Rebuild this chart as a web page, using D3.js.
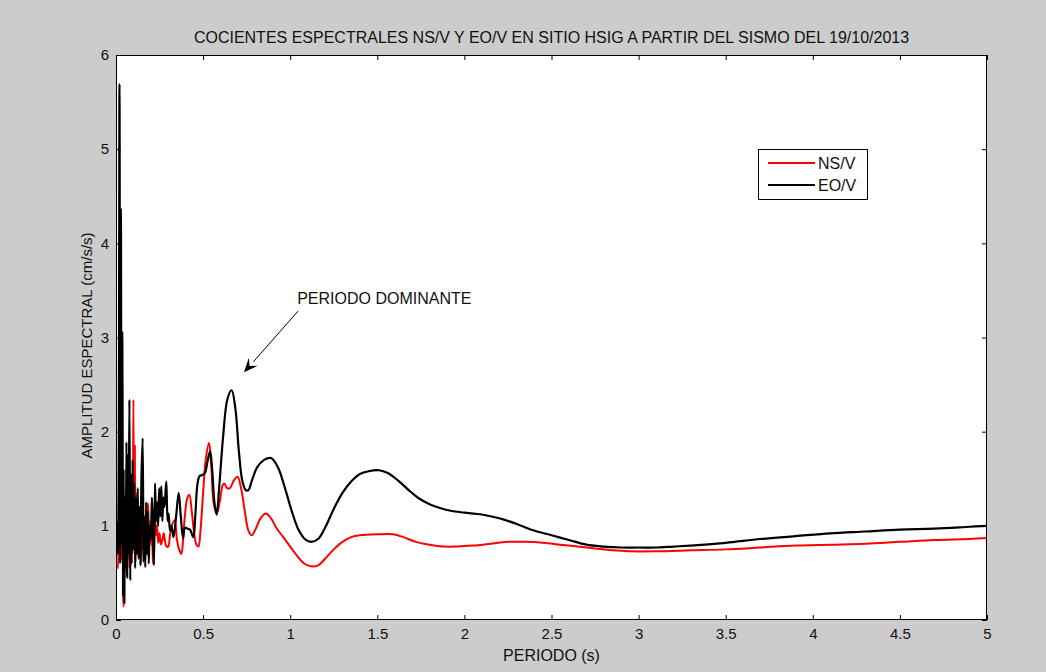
<!DOCTYPE html>
<html>
<head>
<meta charset="utf-8">
<script src="https://cdn.jsdelivr.net/npm/d3@7"></script>
<style>
  html, body { margin: 0; padding: 0; background: #cccccc; }
  svg { display: block; }
  text { font-family: "Liberation Sans", Arial, Helvetica, sans-serif; fill: #111; }
</style>
</head>
<body>
<svg id="chart" width="1046" height="672"></svg>
<script>
// Spectral ratio NS/V (horizontal north-south over vertical), period in s
const nsPeriod = [
  0.005,0.010,0.015,0.020,0.024,0.028,0.032,0.036,0.040,0.044,0.048,0.052,0.056,0.060,0.064,0.068,
  0.072,0.077,0.082,0.086,0.090,0.095,0.100,0.104,0.108,0.112,0.117,0.122,0.128,0.133,0.138,0.143,
  0.148,0.153,0.158,0.163,0.168,0.174,0.180,0.184,0.190,0.196,0.202,0.207,0.212,0.218,0.224,0.230,
  0.236,0.242,0.250,0.258,0.266,0.274,0.282,0.290,0.300,0.310,0.320,0.337,0.350,0.362,0.375,0.385,
  0.395,0.410,0.421,0.435,0.450,0.462,0.473,0.485,0.500,0.515,0.534,0.548,0.560,0.578,0.595,0.612,
  0.622,0.638,0.654,0.676,0.698,0.718,0.740,0.760,0.780,0.800,0.830,0.860,0.890,0.920,0.960,1.000,
  1.040,1.080,1.120,1.160,1.200,1.250,1.300,1.350,1.400,1.500,1.590,1.650,1.720,1.800,1.880,1.960,
  2.050,2.150,2.250,2.350,2.450,2.550,2.650,2.750,2.850,2.950,3.100,3.300,3.500,3.700,3.900,4.100,
  4.300,4.500,4.700,4.900,5.000
];
const nsAmp = [
  0.58,0.55,0.90,1.20,0.70,1.05,0.65,2.48,0.30,0.14,1.20,0.60,1.05,0.50,1.30,0.65,
  1.10,0.55,1.20,0.60,1.00,0.70,2.34,0.75,1.85,0.62,1.35,0.70,1.25,0.85,1.05,0.60,
  1.20,0.75,1.00,0.85,0.98,0.80,1.10,1.24,0.90,1.05,0.80,0.95,0.60,0.95,1.10,0.90,
  1.00,0.82,0.92,0.80,0.85,0.92,0.83,0.78,0.78,0.90,1.00,1.06,0.85,0.75,0.70,0.85,
  1.10,1.30,1.33,1.15,0.90,0.80,0.78,0.95,1.35,1.70,1.88,1.60,1.25,1.13,1.25,1.43,
  1.45,1.40,1.40,1.48,1.52,1.40,1.15,0.95,0.90,0.96,1.08,1.13,1.08,0.98,0.88,0.78,
  0.68,0.60,0.57,0.58,0.65,0.75,0.83,0.88,0.90,0.91,0.91,0.88,0.83,0.80,0.78,0.78,
  0.79,0.81,0.83,0.83,0.82,0.80,0.78,0.76,0.74,0.73,0.73,0.74,0.75,0.77,0.79,0.80,
  0.81,0.83,0.85,0.86,0.87
];

// Spectral ratio EO/V (horizontal east-west over vertical)
const eoPeriod = [
  0.005,0.010,0.015,0.020,0.024,0.028,0.032,0.036,0.040,0.044,0.048,0.052,0.056,0.060,0.064,0.068,
  0.072,0.077,0.082,0.086,0.090,0.095,0.100,0.105,0.110,0.115,0.120,0.125,0.130,0.135,0.140,0.146,
  0.153,0.158,0.163,0.168,0.173,0.178,0.183,0.188,0.194,0.200,0.206,0.212,0.218,0.224,0.230,0.236,
  0.242,0.248,0.254,0.260,0.266,0.272,0.278,0.284,0.289,0.296,0.302,0.310,0.318,0.330,0.345,0.360,
  0.372,0.385,0.396,0.410,0.425,0.444,0.455,0.468,0.480,0.495,0.510,0.525,0.540,0.552,0.565,0.578,
  0.592,0.615,0.640,0.664,0.685,0.705,0.725,0.745,0.760,0.780,0.810,0.850,0.890,0.930,0.970,1.010,
  1.050,1.090,1.120,1.160,1.200,1.250,1.300,1.350,1.400,1.450,1.510,1.560,1.620,1.680,1.740,1.800,
  1.860,1.920,2.000,2.100,2.200,2.300,2.400,2.500,2.600,2.700,2.800,2.900,3.000,3.100,3.200,3.300,
  3.500,3.700,3.900,4.100,4.300,4.500,4.700,4.900,5.000
];
const eoAmp = [
  1.05,0.70,1.40,5.69,0.60,4.37,0.80,3.06,0.25,1.60,0.18,1.30,0.55,1.89,0.45,1.75,
  0.70,2.34,0.42,1.55,0.60,1.70,0.75,1.45,0.55,1.30,0.70,1.40,0.65,1.20,0.58,1.50,
  1.93,0.62,1.10,0.56,1.25,0.70,1.15,0.60,1.00,0.85,1.30,0.95,0.58,1.45,1.05,1.25,
  1.00,1.40,1.10,1.42,1.05,1.30,1.20,1.35,1.47,1.05,1.13,0.95,1.00,0.88,1.10,1.35,
  1.10,0.87,0.98,0.97,0.96,0.88,1.10,1.45,1.53,1.54,1.56,1.68,1.79,1.60,1.25,1.12,
  1.40,1.95,2.35,2.44,2.25,1.80,1.48,1.38,1.38,1.48,1.62,1.70,1.72,1.62,1.40,1.15,
  0.95,0.85,0.83,0.86,0.98,1.18,1.35,1.47,1.55,1.58,1.59,1.56,1.48,1.38,1.29,1.23,
  1.19,1.16,1.14,1.12,1.08,1.02,0.95,0.90,0.85,0.80,0.78,0.77,0.77,0.77,0.78,0.79,
  0.82,0.86,0.89,0.92,0.94,0.96,0.97,0.99,1.00
];

const xTicks = [0, 0.5, 1, 1.5, 2, 2.5, 3, 3.5, 4, 4.5, 5];
const yTicks = [0, 1, 2, 3, 4, 5, 6];

const titleText = "COCIENTES ESPECTRALES NS/V Y EO/V EN SITIO HSIG A PARTIR DEL SISMO DEL 19/10/2013";
const xLabel = "PERIODO (s)";
const yLabel = "AMPLITUD ESPECTRAL (cm/s/s)";
const seriesNames = ["NS/V", "EO/V"];
const noteText = "PERIODO DOMINANTE";
// annotation anchor points in data units [period, amplitude]
const noteAt = [1.04, 3.36];
const arrowFrom = [1.045, 3.28];
const arrowTo = [0.735, 2.63];

const svg = d3.select("#chart");
const plot = { left: 116, right: 987, top: 55, bottom: 620 };

const x = d3.scaleLinear().domain([0, 5]).range([plot.left, plot.right]);
const y = d3.scaleLinear().domain([0, 6]).range([plot.bottom, plot.top]);

// white axes area
svg.append("rect")
  .attr("x", plot.left).attr("y", plot.top)
  .attr("width", plot.right - plot.left).attr("height", plot.bottom - plot.top)
  .attr("fill", "#ffffff");

// clip so curves stay inside the axes
svg.append("clipPath").attr("id", "clip").append("rect")
  .attr("x", plot.left).attr("y", plot.top)
  .attr("width", plot.right - plot.left).attr("height", plot.bottom - plot.top);

const line = d3.line()
  .x(d => x(d[0])).y(d => y(d[1]))
  .curve(d3.curveCatmullRom.alpha(0.5));

const nsData = nsPeriod.map((p, i) => [p, nsAmp[i]]);
const eoData = eoPeriod.map((p, i) => [p, eoAmp[i]]);

const curves = svg.append("g").attr("clip-path", "url(#clip)");
curves.append("path").datum(nsData)
  .attr("d", line).attr("fill", "none")
  .attr("stroke", "#ff0000").attr("stroke-width", 2).attr("stroke-linejoin", "round");
curves.append("path").datum(eoData)
  .attr("d", line).attr("fill", "none")
  .attr("stroke", "#000000").attr("stroke-width", 2.2).attr("stroke-linejoin", "round");

// axes with inward ticks on all four sides
const fmt = d => String(d);
const axisFont = g => g.selectAll("text")
  .attr("font-size", 15).attr("fill", "#1a1d2e")
  .attr("font-family", "'Liberation Sans Narrow', 'Liberation Sans', Arial, sans-serif");

svg.append("g").attr("transform", `translate(0,${plot.bottom})`)
  .call(d3.axisBottom(x).tickValues(xTicks).tickFormat(fmt).tickSizeInner(-5).tickSizeOuter(0).tickPadding(8))
  .call(g => g.select(".domain").remove())
  .call(axisFont);
svg.append("g").attr("transform", `translate(${plot.left},0)`)
  .call(d3.axisLeft(y).tickValues(yTicks).tickFormat(fmt).tickSizeInner(-5).tickSizeOuter(0).tickPadding(7))
  .call(g => g.select(".domain").remove())
  .call(axisFont);
svg.append("g").attr("transform", `translate(0,${plot.top})`)
  .call(d3.axisTop(x).tickValues(xTicks).tickFormat("").tickSizeInner(-5).tickSizeOuter(0))
  .call(g => g.select(".domain").remove());
svg.append("g").attr("transform", `translate(${plot.right},0)`)
  .call(d3.axisRight(y).tickValues(yTicks).tickFormat("").tickSizeInner(-5).tickSizeOuter(0))
  .call(g => g.select(".domain").remove());
svg.selectAll(".tick line").attr("stroke", "#000");

// axes box
svg.append("rect")
  .attr("x", plot.left + 0.5).attr("y", plot.top + 0.5)
  .attr("width", plot.right - plot.left - 1).attr("height", plot.bottom - plot.top - 1)
  .attr("fill", "none").attr("stroke", "#000").attr("stroke-width", 1);

// title and axis labels
svg.append("text")
  .attr("x", (plot.left + plot.right) / 2).attr("y", 43)
  .attr("text-anchor", "middle").attr("font-size", 16)
  .text(titleText);
svg.append("text")
  .attr("x", (plot.left + plot.right) / 2).attr("y", 661)
  .attr("text-anchor", "middle").attr("font-size", 16)
  .text(xLabel);
svg.append("text")
  .attr("transform", `translate(92,${(plot.top + plot.bottom) / 2 + 8}) rotate(-90)`)
  .attr("text-anchor", "middle").attr("font-size", 15)
  .text(yLabel);

// legend
const legend = svg.append("g").attr("transform", "translate(758,149)");
legend.append("rect").attr("x", 0.5).attr("y", 0.5).attr("width", 109).attr("height", 50)
  .attr("fill", "#fff").attr("stroke", "#000");
const legendColors = ["#ff0000", "#000000"];
seriesNames.forEach((name, i) => {
  const ly = 14 + i * 22;
  legend.append("line").attr("x1", 10).attr("x2", 57).attr("y1", ly).attr("y2", ly)
    .attr("stroke", legendColors[i]).attr("stroke-width", 2.2);
  legend.append("text").attr("x", 60).attr("y", ly + 6).attr("font-size", 16).text(name);
});

// annotation with arrow
svg.append("text")
  .attr("x", x(noteAt[0])).attr("y", y(noteAt[1]))
  .attr("font-size", 16).text(noteText);
const ax0 = x(arrowFrom[0]), ay0 = y(arrowFrom[1]);
const ax1 = x(arrowTo[0]), ay1 = y(arrowTo[1]);
const ang = Math.atan2(ay1 - ay0, ax1 - ax0);
const headLen = 14, headHalf = 6;
const bx = ax1 - headLen * Math.cos(ang), by = ay1 - headLen * Math.sin(ang);
svg.append("line")
  .attr("x1", ax0).attr("y1", ay0).attr("x2", bx).attr("y2", by)
  .attr("stroke", "#000").attr("stroke-width", 1);
svg.append("path")
  .attr("d", `M${ax1},${ay1}
    L${bx + headHalf * Math.sin(ang)},${by - headHalf * Math.cos(ang)}
    L${ax1 - 0.6 * headLen * Math.cos(ang)},${ay1 - 0.6 * headLen * Math.sin(ang)}
    L${bx - headHalf * Math.sin(ang)},${by + headHalf * Math.cos(ang)} Z`)
  .attr("fill", "#000");
</script>
</body>
</html>
